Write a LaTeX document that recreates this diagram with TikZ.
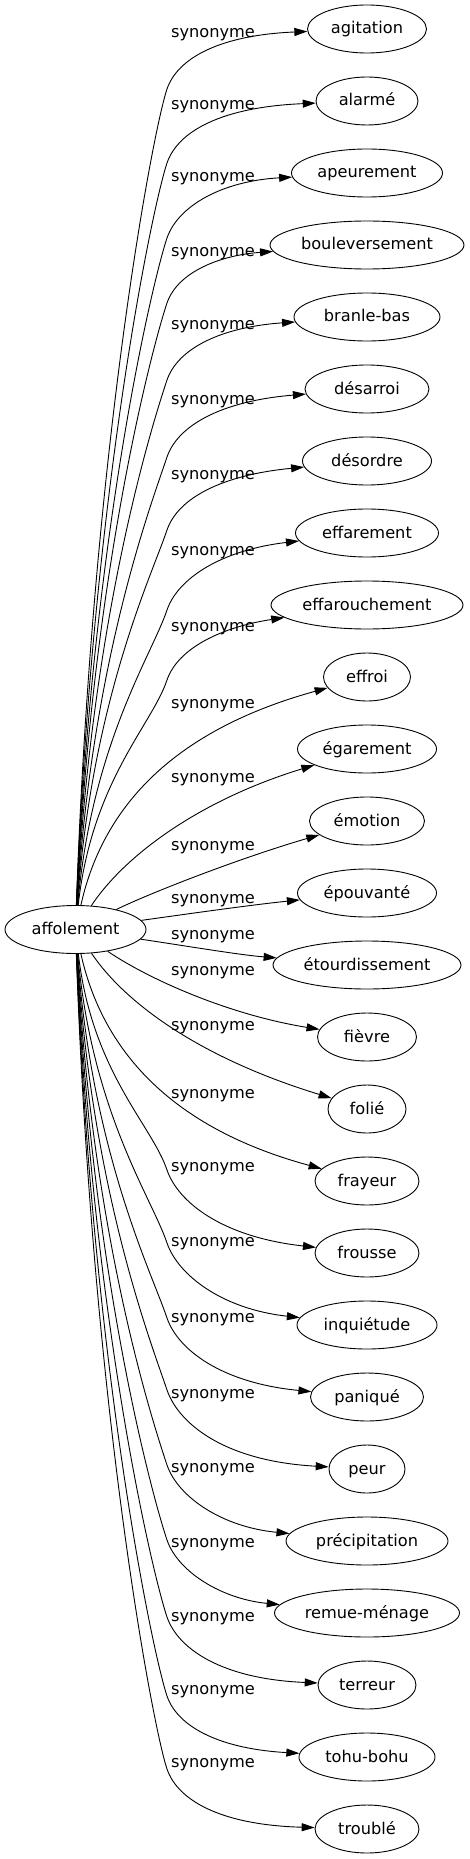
\documentclass[tikz,border=0pt]{standalone}
\usepackage{fontspec}
\setmainfont{DejaVu Sans}
\usetikzlibrary{arrows.meta,shapes.geometric}
\begin{document}
\begin{tikzpicture}[x=1pt,y=-1pt,
  word/.style={draw, ellipse, line width=0.9pt, inner sep=0pt, minimum height=48pt, text height=12pt, text depth=2pt, font=\fontsize{16.2}{19}\selectfont},
  syn/.style={line width=0.9pt, -{Triangle[length=13pt,width=8pt]}},
  lbl/.style={inner sep=0pt, text height=12pt, text depth=2pt, font=\fontsize{16.2}{19}\selectfont}]
\useasboundingbox (0,0) rectangle (469,1859);
\node[word, minimum width=141pt] (AF) at (75.5,929.5) {affolement};
\node[word, minimum width=119pt] (A) at (367,29) {agitation};
\node[word, minimum width=102pt] (B) at (367,101) {alarmé};
\node[word, minimum width=151pt] (C) at (367,173) {apeurement};
\node[word, minimum width=194pt] (D) at (367,245) {bouleversement};
\node[word, minimum width=146pt] (E) at (367,317) {branle-bas};
\node[word, minimum width=124pt] (F) at (367,389) {désarroi};
\node[word, minimum width=129pt] (G) at (367,461) {désordre};
\node[word, minimum width=143pt] (H) at (367,533) {effarement};
\node[word, minimum width=192pt] (I) at (367,605) {effarouchement};
\node[word, minimum width=87pt] (J) at (367,677) {effroi};
\node[word, minimum width=139pt] (K) at (367,749) {égarement};
\node[word, minimum width=115pt] (L) at (367,821) {émotion};
\node[word, minimum width=139pt] (M) at (367,893) {épouvanté};
\node[word, minimum width=188pt] (N) at (367,965) {étourdissement};
\node[word, minimum width=99pt] (O) at (367,1037) {fièvre};
\node[word, minimum width=78pt] (P) at (367,1109) {folié};
\node[word, minimum width=104pt] (Q) at (367,1181) {frayeur};
\node[word, minimum width=104pt] (R) at (367,1253) {frousse};
\node[word, minimum width=140pt] (S) at (367,1325) {inquiétude};
\node[word, minimum width=113pt] (T) at (367,1397) {paniqué};
\node[word, minimum width=76pt] (U) at (367,1469) {peur};
\node[word, minimum width=162pt] (V) at (367,1541) {précipitation};
\node[word, minimum width=185pt] (W) at (367,1613) {remue-ménage};
\node[word, minimum width=98pt] (X) at (367,1685) {terreur};
\node[word, minimum width=136pt] (Y) at (367,1757) {tohu-bohu};
\node[word, minimum width=104pt] (Z) at (367,1829) {troublé};
\draw[syn] (AF) .. controls (92,456) and (152,134) .. (167,89) .. controls (178,57) and (222,35) .. (A);
\draw[syn] (AF) .. controls (92,497) and (152,208) .. (167,163) .. controls (178,131) and (222,107) .. (B);
\draw[syn] (AF) .. controls (92,538) and (152,283) .. (167,238) .. controls (178,206) and (222,181) .. (C);
\draw[syn] (AF) .. controls (92,574) and (152,348) .. (167,303) .. controls (178,271) and (222,255) .. (D);
\draw[syn] (AF) .. controls (92,616) and (152,425) .. (167,380) .. controls (178,348) and (222,327) .. (E);
\draw[syn] (AF) .. controls (92,659) and (152,502) .. (167,457) .. controls (178,425) and (222,401) .. (F);
\draw[syn] (AF) .. controls (92,699) and (152,575) .. (167,530) .. controls (178,498) and (222,475) .. (G);
\draw[syn] (AF) .. controls (92,743) and (152,655) .. (167,610) .. controls (178,578) and (222,550) .. (H);
\draw[syn] (AF) .. controls (92,781) and (152,725) .. (167,680) .. controls (178,648) and (222,627) .. (I);
\draw[syn] (AF) .. controls (100,819) and (160,734) .. (J);
\draw[syn] (AF) .. controls (125,855) and (200,800) .. (K);
\draw[syn] (AF) .. controls (150,893) and (240,858) .. (L);
\draw[syn] (AF) .. controls (180,915) and (250,905) .. (M);
\draw[syn] (AF) .. controls (180,945) and (240,955) .. (N);
\draw[syn] (AF) .. controls (150,980) and (230,1015) .. (O);
\draw[syn] (AF) .. controls (125,1003) and (200,1058) .. (P);
\draw[syn] (AF) .. controls (100,1040) and (160,1125) .. (Q);
\draw[syn] (AF) .. controls (92,1072) and (152,1125) .. (167,1170) .. controls (178,1202) and (222,1237) .. (R);
\draw[syn] (AF) .. controls (92,1113) and (152,1198) .. (167,1243) .. controls (178,1275) and (222,1309) .. (S);
\draw[syn] (AF) .. controls (92,1154) and (152,1273) .. (167,1318) .. controls (178,1350) and (222,1383) .. (T);
\draw[syn] (AF) .. controls (92,1193) and (152,1345) .. (167,1390) .. controls (178,1422) and (222,1461) .. (U);
\draw[syn] (AF) .. controls (92,1235) and (152,1420) .. (167,1465) .. controls (178,1497) and (222,1527) .. (V);
\draw[syn] (AF) .. controls (92,1276) and (152,1495) .. (167,1540) .. controls (178,1572) and (222,1599) .. (W);
\draw[syn] (AF) .. controls (92,1318) and (152,1572) .. (167,1617) .. controls (178,1649) and (222,1679) .. (X);
\draw[syn] (AF) .. controls (92,1362) and (152,1651) .. (167,1696) .. controls (178,1728) and (222,1749) .. (Y);
\draw[syn] (AF) .. controls (92,1402) and (152,1724) .. (167,1769) .. controls (178,1801) and (222,1825) .. (Z);
\node[lbl] (lA) at (213,33) {synonyme};
\node[lbl] (lB) at (213,105) {synonyme};
\node[lbl] (lC) at (213,177) {synonyme};
\node[lbl] (lD) at (213,252) {synonyme};
\node[lbl] (lE) at (213,325) {synonyme};
\node[lbl] (lF) at (213,399) {synonyme};
\node[lbl] (lG) at (213,474) {synonyme};
\node[lbl] (lH) at (213,550) {synonyme};
\node[lbl] (lI) at (213,626) {synonyme};
\node[lbl] (lJ) at (213,703) {synonyme};
\node[lbl] (lK) at (213,777) {synonyme};
\node[lbl] (lL) at (213,845) {synonyme};
\node[lbl] (lM) at (213,898) {synonyme};
\node[lbl] (lN) at (213,934) {synonyme};
\node[lbl] (lO) at (213,970) {synonyme};
\node[lbl] (lP) at (213,1025) {synonyme};
\node[lbl] (lQ) at (213,1093) {synonyme};
\node[lbl] (lR) at (213,1166) {synonyme};
\node[lbl] (lS) at (213,1241) {synonyme};
\node[lbl] (lT) at (213,1317) {synonyme};
\node[lbl] (lU) at (213,1393) {synonyme};
\node[lbl] (lV) at (213,1467) {synonyme};
\node[lbl] (lW) at (213,1542) {synonyme};
\node[lbl] (lX) at (213,1616) {synonyme};
\node[lbl] (lY) at (213,1689) {synonyme};
\node[lbl] (lZ) at (213,1762) {synonyme};
\end{tikzpicture}
\end{document}
